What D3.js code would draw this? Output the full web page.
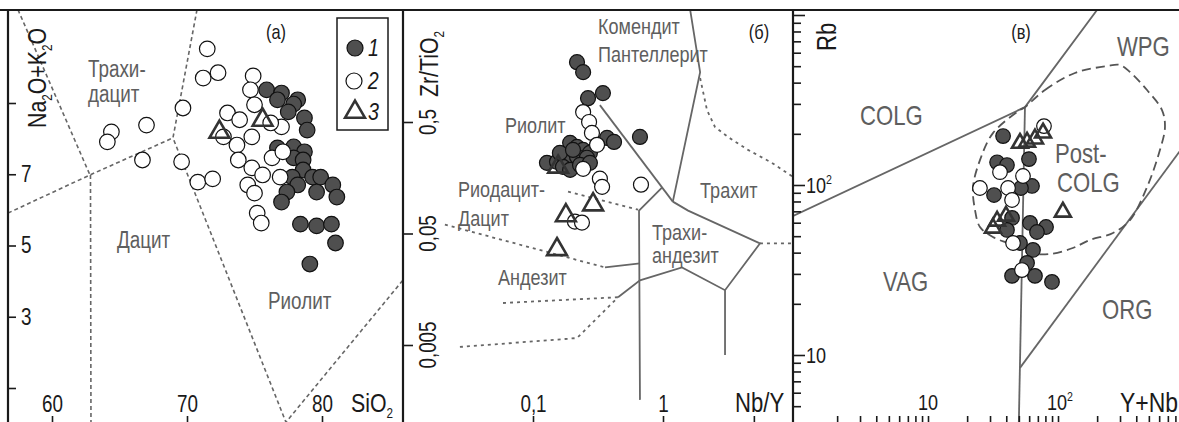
<!DOCTYPE html>
<html>
<head>
<meta charset="utf-8">
<script src="https://cdn.jsdelivr.net/npm/d3@7"></script>
<style>
  body { margin: 0; background: #fff; }
  svg { display: block; font-family: "Liberation Sans", Arial, sans-serif; }
  /* narrow look: squeeze every upright text horizontally around its own box */
  svg text:not(.rot) { transform-box: fill-box; transform: scaleX(0.82); transform-origin: left center; }
  svg text.mid { transform-origin: center; }
  svg text.end { transform-origin: right center; }
</style>
</head>
<body>
<div class="canvas"></div>
<script>
// ---------- panel (a): TAS, SiO2 vs Na2O+K2O ----------
const tasFilled = [[75.9,9.37],[77.0,9.28],[76.7,9.09],[78.2,9.09],[77.9,8.97],[77.5,8.75],[78.7,8.58],[78.9,8.24],
  [76.7,7.74],[77.9,7.77],[78.7,7.63],[77.9,7.46],[78.6,7.40],[78.6,7.12],[79.3,6.92],[79.9,6.92],[77.8,6.92],
  [78.2,6.70],[77.4,6.50],[77.0,6.22],[79.6,6.50],[80.8,6.70],[81.1,6.36],[78.4,5.60],[79.6,5.55],[80.7,5.60],
  [81.0,5.07],[79.1,4.48]];
const tasOpen = [[71.5,10.52],[71.2,9.70],[72.3,9.85],[74.9,9.76],[74.7,9.37],[75.0,8.95],[73.0,8.72],[73.9,8.53],
  [72.7,8.05],[74.8,8.05],[73.7,7.82],[73.8,7.40],[74.8,7.18],[75.6,6.98],[76.3,7.46],[77.1,7.63],[76.9,6.92],
  [74.5,6.70],[75.0,6.47],[75.2,5.91],[75.5,5.63],[70.8,6.78],[71.9,6.87],[77.0,8.33],[76.2,8.44],[69.7,8.86],
  [67.0,8.38],[64.4,8.19],[64.1,7.91],[66.7,7.40],[69.6,7.35]];
const tasTri = [[72.4,8.24],[75.6,8.58]];
const tasBounds = [
  [[57.48,11.62],[62.81,6.98]],
  [[56.74,5.91],[62.81,6.98],[68.96,8.02]],
  [[62.85,6.98],[62.89,-0.5]],
  [[70.74,11.62],[68.96,8.02],[77.33,0.04],[86.0,4.03]]
];
const tasFields = [['Трахи-',62.67,9.72],['дацит',62.67,9.04],['Дацит',64.81,4.93],['Риолит',76.0,3.22]];
const tasXTicks = [60, 70, 80];
const tasYTicks = [1, 3, 5, 7, 9];
const tasYLabels = [3, 5, 7];

// ---------- panel (б): Nb/Y vs Zr/TiO2 ----------
const wfFilled = [[0.218,1.72],[0.243,1.40],[0.265,0.818],[0.345,0.908],[0.665,0.367],[0.371,0.360],[0.420,0.331],
  [0.193,0.325],[0.218,0.299],[0.243,0.281],[0.274,0.264],[0.128,0.215],[0.153,0.220],[0.183,0.244],[0.218,0.244],
  [0.260,0.239],[0.170,0.198],[0.193,0.186],[0.230,0.206],[0.274,0.215],[0.161,0.264],[0.203,0.281]];
const wfOpen = [[0.243,0.614],[0.270,0.500],[0.284,0.399],[0.311,0.312],[0.243,0.190],[0.327,0.155],[0.340,0.131],
  [0.677,0.137],[0.210,0.064],[0.238,0.0627]];
const wfTri = [[0.156,0.206],[0.290,0.0946],[0.179,0.0755],[0.153,0.0375]];
const wfSolid = [
  [[0.327,0.709],[1.19,0.0966]],
  [[1.6,5.5],[1.93,1.40],[1.19,0.0966]],
  [[0.451,0.0134],[0.665,0.0190],[1.40,0.0248],[3.0,0.0155],[5.57,0.0407],[1.56,0.0802],[1.19,0.0966]],
  [[0.982,0.129],[0.654,0.0802],[0.665,0.00161]],
  [[0.358,0.0248],[0.665,0.0270]],
  [[3.0,0.0155],[3.0,0.00407]]
];
const wfDashed = [
  [[1.93,1.24],[2.18,0.640],[2.51,0.451],[3.16,0.367],[4.51,0.281],[6.89,0.215],[10,0.161]],
  [[0.186,0.119],[0.643,0.0818]],
  [[0.021,0.0601],[0.358,0.0248]],
  [[0.0588,0.0119],[0.451,0.0134]],
  [[0.0274,0.0048],[0.218,0.00577],[0.451,0.0134]],
  [[5.57,0.0407],[10,0.0407]]
];
const wfFields = [['Комендит',0.316,3.05],['Пантеллерит',0.316,1.72],['Риолит',0.0609,0.399],
  ['Риодацит-',0.0265,0.107],['Дацит',0.0265,0.0589],['Андезит',0.0538,0.0172],['Трахит',1.93,0.105],
  ['Трахи-',0.823,0.0440],['андезит',0.823,0.0272]];
const wfXTicks = [0.1, 1, 5];
const wfXLabels = {0.1: '0,1', 1: '1'};
const wfYTicks = [0.005, 0.05, 0.5];
const wfYLabels = ['0,005', '0,05', '0,5'];

// ---------- panel (в): Y+Nb vs Rb ----------
const pFilled = [[37.8,194],[34.0,136],[40.5,131],[59.8,142],[63.1,98.7],[51.9,96],[32.2,87.3],[44.3,64],[60.9,59.8],
  [80.9,56.6],[68.9,52.9],[40.5,54.4],[51.0,45.6],[64.2,41.5],[57.8,34.8],[44.3,29.2],[66.5,29.2],[89.9,26.9]];
const pOpen = [[78,222],[35.8,119],[53.8,113],[25.1,96],[41.3,96],[44.3,81.6],[45.1,45.6],[52.8,31.6]];
const pTri = [[51,181],[57.8,184],[66.5,192],[76.7,208],[109,71.3],[34.0,63.1],[39.8,67.5],[31.6,57.4]];
const pSolid = [
  [[0.8,62.7],[55.7,287],[250,1350]],
  [[55.7,287],[49.8,3.5]],
  [[51,8.4],[1000,184]]
];
const pEnvelope = [[55.7,287],[79.4,362],[135,456],[238,501],[300,508],[358,462],[484,362],[631,276],[665,219],
  [609,161],[484,97.3],[358,62.2],[265,52.2],[176,47.5],[130,42.6],[86.8,39.3],[60.9,39.8],[42.7,45.0],[31.6,49.4],
  [25.1,56.6],[23.0,71.3],[22.2,97.3],[25.1,140],[31.6,202],[51.0,276]];
const pFields = [['COLG',3.0,225],['Post-',94.8,135],['COLG',98.2,91],['VAG',4.51,23.8],['ORG',218,16.3],['WPG',284,574]];

const W = 1179, H = 422, TOP = 10;
const ink = '#1a1a1a', grey = '#666', fieldGrey = '#5e5e5e';

const svg = d3.select('.canvas').append('svg').attr('width', W).attr('height', H);

// scales
const xA = d3.scaleLinear().domain([60, 80]).range([52, 322]);
const yA = d3.scaleLinear().domain([1, 9]).range([388, 103]);
const xB = d3.scaleLog().domain([0.1, 1]).range([533, 663]);
const yB = d3.scaleLog().domain([0.005, 0.5]).range([345, 122]);
const xC = d3.scaleLog().domain([10, 100]).range([928, 1058]);
const yC = d3.scaleLog().domain([10, 100]).range([355, 185]);

const panels = [
  {id: 'a', x: xA, y: yA, left: 8, right: 403},
  {id: 'b', x: xB, y: yB, left: 403, right: 793},
  {id: 'c', x: xC, y: yC, left: 793, right: W}
];

const defs = svg.append('defs');
panels.forEach(p => {
  defs.append('clipPath').attr('id', 'clip-' + p.id)
    .append('rect').attr('x', p.left).attr('y', TOP).attr('width', p.right - p.left).attr('height', H - TOP);
  p.g = svg.append('g').attr('clip-path', `url(#clip-${p.id})`);
  p.line = d3.line().x(d => p.x(d[0])).y(d => p.y(d[1]));
});
const [pa, pb, pc] = panels;

// boundary lines
pa.g.selectAll('.bnd').data(tasBounds).join('path')
  .attr('d', pa.line).attr('fill', 'none').attr('stroke', grey).attr('stroke-width', 1.6).attr('stroke-dasharray', '4,3');
pb.g.selectAll('.sol').data(wfSolid).join('path')
  .attr('d', pb.line).attr('fill', 'none').attr('stroke', grey).attr('stroke-width', 1.8);
pb.g.selectAll('.dsh').data(wfDashed).join('path')
  .attr('d', pb.line).attr('fill', 'none').attr('stroke', grey).attr('stroke-width', 1.8).attr('stroke-dasharray', '3,4');
pc.g.selectAll('.sol').data(pSolid).join('path')
  .attr('d', pc.line).attr('fill', 'none').attr('stroke', grey).attr('stroke-width', 1.8);
pc.g.append('path')
  .attr('d', d3.line().x(d => xC(d[0])).y(d => yC(d[1])).curve(d3.curveCatmullRomClosed.alpha(0.5))(pEnvelope))
  .attr('fill', 'none').attr('stroke', '#555').attr('stroke-width', 1.8).attr('stroke-dasharray', '9,5');

// field names
function fields(p, list, size) {
  p.g.selectAll('.fld').data(list).join('text')
    .attr('x', d => p.x(d[1])).attr('y', d => p.y(d[2]))
    .attr('font-size', size).attr('fill', fieldGrey).text(d => d[0]);
}
fields(pa, tasFields, 23);
fields(pb, wfFields, 22);
fields(pc, pFields, 27);

// points
function points(p, filled, open, tri, r, triSize) {
  p.g.append('g').selectAll('circle').data(filled).join('circle')
    .attr('cx', d => p.x(d[0])).attr('cy', d => p.y(d[1])).attr('r', r)
    .attr('fill', '#4f4f4f').attr('stroke', '#111').attr('stroke-width', 1.2);
  p.g.append('g').selectAll('circle').data(open).join('circle')
    .attr('cx', d => p.x(d[0])).attr('cy', d => p.y(d[1])).attr('r', r)
    .attr('fill', '#fff').attr('stroke', '#111').attr('stroke-width', 1.2);
  p.g.append('g').selectAll('path').data(tri).join('path')
    .attr('d', d3.symbol(d3.symbolTriangle, triSize))
    .attr('transform', d => `translate(${p.x(d[0])},${p.y(d[1]) + 2})`)
    .attr('fill', 'none').attr('stroke', '#333').attr('stroke-width', 2.6);
}
points(pa, tasFilled, tasOpen, tasTri, 7.8, 170);
points(pb, wfFilled, wfOpen, wfTri, 7.5, 170);
points(pc, pFilled, pOpen, pTri, 7.3, 110);

// frame
svg.append('line').attr('x1', 0).attr('x2', W).attr('y1', TOP).attr('y2', TOP).attr('stroke', ink).attr('stroke-width', 2);
panels.forEach(p => svg.append('line').attr('x1', p.left).attr('x2', p.left).attr('y1', TOP).attr('y2', H)
  .attr('stroke', ink).attr('stroke-width', 2.2));

// axes
function styleAxis(g, size, cls) {
  g.select('.domain').remove();
  g.selectAll('line').attr('stroke', ink).attr('stroke-width', 1.6);
  g.selectAll('text').attr('font-size', size).attr('fill', ink).attr('font-family', null).attr('class', cls || null);
}
const aY = svg.append('g').attr('transform', `translate(${pa.left},0)`)
  .call(d3.axisRight(yA).tickValues(tasYTicks).tickSize(8).tickPadding(5)
    .tickFormat(d => tasYLabels.includes(d) ? d : ''));
styleAxis(aY, 23);
const aX = svg.append('g').attr('transform', `translate(0,${H + 2})`)
  .call(d3.axisTop(xA).tickValues(tasXTicks).tickSize(8).tickPadding(4));
styleAxis(aX, 23, 'mid');

const bY = svg.append('g').attr('transform', `translate(${pb.left},0)`)
  .call(d3.axisRight(yB).tickValues(wfYTicks).tickSize(10).tickFormat(''));
styleAxis(bY, 22);
const bX = svg.append('g').attr('transform', `translate(0,${H + 2})`)
  .call(d3.axisTop(xB).tickValues(wfXTicks).tickSize(8).tickPadding(4).tickFormat(d => wfXLabels[d] || ''));
styleAxis(bX, 23, 'mid');
svg.append('g').selectAll('text').data(wfYTicks).join('text')
  .attr('class', 'rot')
  .attr('transform', d => `translate(436,${yB(d)}) rotate(-90) scale(0.82,1)`)
  .attr('text-anchor', 'middle').attr('font-size', 23).attr('fill', ink)
  .text((d, i) => wfYLabels[i]);

const cTicks = [];
[1, 10, 100].forEach(m => d3.range(1, 10).forEach(k => cTicks.push(k * m)));
cTicks.push(1000);
const cY = svg.append('g').attr('transform', `translate(${pc.left},0)`)
  .call(d3.axisRight(yC).tickValues(cTicks.filter(v => v >= 4)).tickSize(8).tickFormat(''));
styleAxis(cY, 22);
cY.selectAll('.tick line').attr('x2', d => [10, 100, 1000].includes(d) ? 12 : 8);
const cX = svg.append('g').attr('transform', `translate(0,${H + 2})`)
  .call(d3.axisTop(xC).tickValues(cTicks.filter(v => v >= 2 && v <= 900)).tickSize(8).tickFormat(''));
styleAxis(cX, 22);

// power-of-ten labels
function pow10(sel, base, exp) {
  sel.append('tspan').text(base);
  if (exp) sel.append('tspan').text(exp).attr('font-size', 13).attr('dy', -9);
}
pow10(svg.append('text').attr('class', 'mid').attr('x', xC(10)).attr('y', 410).attr('text-anchor', 'middle')
  .attr('font-size', 22).attr('fill', ink), '10');
pow10(svg.append('text').attr('class', 'mid').attr('x', xC(100) + 2).attr('y', 410).attr('text-anchor', 'middle')
  .attr('font-size', 22).attr('fill', ink), '10', '2');
pow10(svg.append('text').attr('x', pc.left + 13).attr('y', yC(100) + 8).attr('font-size', 22).attr('fill', ink), '10', '2');
pow10(svg.append('text').attr('x', pc.left + 13).attr('y', yC(10) + 8).attr('font-size', 22).attr('fill', ink), '10');

// axis titles with subscripts
function subText(sel, parts, size) {
  parts.forEach(([s, sub], i) => {
    if (sub) sel.append('tspan').text(s).attr('font-size', size * 0.55).attr('dy', size * 0.22);
    else sel.append('tspan').text(s).attr('dy', i ? -size * 0.22 : 0);
  });
}
subText(svg.append('text').attr('class', 'rot').attr('transform', 'translate(46,128) rotate(-90) scale(0.82,1)')
  .attr('font-size', 26).attr('fill', ink), [['Na'], ['2', 1], ['O+K'], ['2', 1], ['O']], 26);
subText(svg.append('text').attr('x', 351).attr('y', 412).attr('font-size', 26).attr('fill', ink),
  [['SiO'], ['2', 1]], 26);
subText(svg.append('text').attr('class', 'rot').attr('transform', 'translate(438,97) rotate(-90) scale(0.82,1)')
  .attr('font-size', 26).attr('fill', ink), [['Zr/TiO'], ['2', 1]], 26);
svg.append('text').attr('x', 735).attr('y', 412).attr('font-size', 27).attr('fill', ink).text('Nb/Y');
svg.append('text').attr('class', 'rot').attr('transform', 'translate(836,51) rotate(-90) scale(0.82,1)')
  .attr('font-size', 27).attr('fill', ink).text('Rb');
svg.append('text').attr('class', 'end').attr('x', 1178).attr('y', 412).attr('text-anchor', 'end')
  .attr('font-size', 28).attr('fill', ink).text('Y+Nb');

// panel letters
[['(а)', 276], ['(б)', 759], ['(в)', 1021]].forEach(([t, x]) =>
  svg.append('text').attr('class', 'mid').attr('x', x).attr('y', 39).attr('text-anchor', 'middle')
    .attr('font-size', 20).attr('fill', ink).text(t));

// legend
const lg = svg.append('g');
lg.append('rect').attr('x', 337).attr('y', 18).attr('width', 51).attr('height', 112)
  .attr('fill', '#fff').attr('stroke', ink).attr('stroke-width', 1.5);
lg.append('circle').attr('cx', 355).attr('cy', 48).attr('r', 8).attr('fill', '#4f4f4f').attr('stroke', '#111').attr('stroke-width', 1.2);
lg.append('circle').attr('cx', 354).attr('cy', 81).attr('r', 8).attr('fill', '#fff').attr('stroke', '#111').attr('stroke-width', 1.2);
lg.append('path').attr('d', d3.symbol(d3.symbolTriangle, 170)).attr('transform', 'translate(355,112)')
  .attr('fill', 'none').attr('stroke', '#333').attr('stroke-width', 2.6);
['1', '2', '3'].forEach((t, i) => lg.append('text').attr('x', 368).attr('y', [56, 89, 120][i])
  .attr('font-size', 24).attr('font-style', 'italic').attr('fill', ink).text(t));
</script>
</body>
</html>
